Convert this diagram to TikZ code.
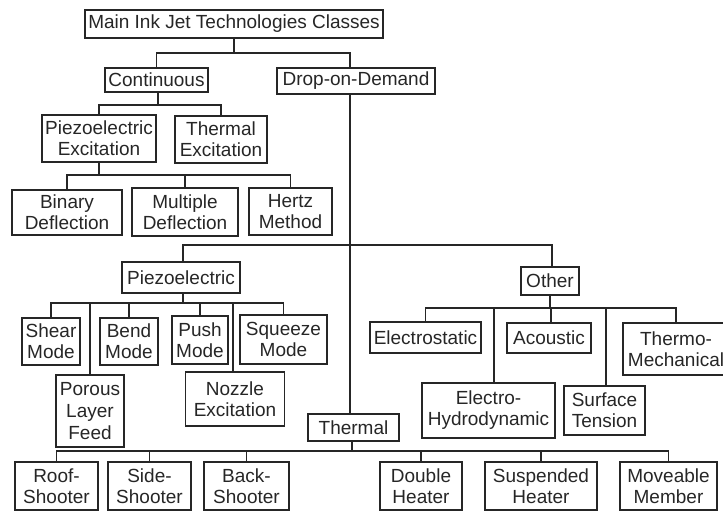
\documentclass[tikz,border=0pt]{standalone}
\usepackage{fontspec}
\setmainfont{Liberation Sans}
\begin{document}
\begin{tikzpicture}[x=1pt,y=-1pt,
  bx/.style={draw=black!85, line width=1.6pt, align=center, inner sep=0pt,
    text=black!85, font=\fontsize{19}{21}\selectfont},
  ln/.style={draw=black!85, line width=1.5pt}]
\useasboundingbox (0,0) rectangle (723,511);
\clip (0,0) rectangle (723,511);
% bus levels
\coordinate (bmain) at (0,53);
\coordinate (bcont) at (0,105);
\coordinate (bpe) at (0,175);
\coordinate (bdod) at (0,245);
\coordinate (bpz) at (0,303);
\coordinate (bot) at (0,308);
\coordinate (bth) at (0,451);
% nodes
\node[bx, minimum width=298pt, minimum height=28pt] (main) at (234,24) {Main Ink Jet Technologies Classes};
\node[bx, minimum width=103pt, minimum height=24pt] (cont) at (156.5,80) {Continuous};
\node[bx, minimum width=158pt, minimum height=26pt] (dod) at (356,81) {Drop-on-Demand};
\node[bx, minimum width=114pt, minimum height=47pt] (pe) at (99,138.5) {Piezoelectric\\Excitation};
\node[bx, minimum width=92pt, minimum height=47pt] (te) at (221,139.5) {Thermal\\Excitation};
\node[bx, minimum width=110pt, minimum height=45pt] (bd) at (67,212.5) {Binary\\Deflection};
\node[bx, minimum width=106pt, minimum height=48pt] (md) at (185,212) {Multiple\\Deflection};
\node[bx, minimum width=83pt, minimum height=47pt] (hm) at (290.5,211.5) {Hertz\\Method};
\node[bx, minimum width=118pt, minimum height=31pt] (piezo) at (181,277.5) {Piezoelectric};
\node[bx, minimum width=58pt, minimum height=47pt] (shear) at (51,341.5) {Shear\\Mode};
\node[bx, minimum width=68pt, minimum height=72pt, font=\fontsize{19}{22}\selectfont] (porous) at (90,411) {Porous\\Layer\\Feed};
\node[bx, minimum width=58pt, minimum height=47pt] (bend) at (129,341.5) {Bend\\Mode};
\node[bx, minimum width=56pt, minimum height=48pt] (push) at (200,340) {Push\\Mode};
\node[bx, minimum width=99pt, minimum height=54pt] (nozzle) at (235,399) {Nozzle\\Excitation};
\node[bx, minimum width=87pt, minimum height=49pt] (squeeze) at (283.5,339.5) {Squeeze\\Mode};
\node[bx, minimum width=58pt, minimum height=28pt] (other) at (550,281) {Other};
\node[bx, minimum width=111pt, minimum height=31pt] (estat) at (425.5,337.5) {Electrostatic};
\node[bx, minimum width=133pt, minimum height=55pt] (ehd) at (488.5,410.5) {Electro-\\Hydrodynamic};
\node[bx, minimum width=84pt, minimum height=30pt] (acou) at (549,338) {Acoustic};
\node[bx, minimum width=81pt, minimum height=49pt] (surf) at (604.5,410.5) {Surface\\Tension};
\node[bx, minimum width=106pt, minimum height=52pt] (tm) at (676,349) {Thermo-\\Mechanical};
\node[bx, minimum width=91pt, minimum height=27pt] (thermal) at (353.5,427.5) {Thermal};
\node[bx, minimum width=83pt, minimum height=48pt] (roof) at (56.5,486) {Roof-\\Shooter};
\node[bx, minimum width=83pt, minimum height=48pt] (side) at (149.5,486) {Side-\\Shooter};
\node[bx, minimum width=85pt, minimum height=48pt] (back) at (246.5,486) {Back-\\Shooter};
\node[bx, minimum width=82pt, minimum height=48pt] (dbl) at (421,486) {Double\\Heater};
\node[bx, minimum width=112pt, minimum height=48pt] (susp) at (541,486) {Suspended\\Heater};
\node[bx, minimum width=97pt, minimum height=48pt] (move) at (668.5,486) {Moveable\\Member};
% connectors
\draw[ln] (main.south) -- (main.south |- bmain);
\draw[ln] (cont.north) |- ([xshift=-6pt]dod.north |- bmain) -- ([xshift=-6pt]dod.north);
\draw[ln] ([xshift=1.5pt]cont.south) -- ([xshift=1.5pt]cont.south |- bcont);
\draw[ln] (pe.north) |- (te.north |- bcont) -- (te.north);
\draw[ln] (pe.south) -- (pe.south |- bpe);
\draw[ln] (bd.north) |- (hm.north |- bpe) -- (hm.north);
\draw[ln] (md.north) -- (md.north |- bpe);
\draw[ln] ([xshift=-6pt]dod.south) -- ([xshift=-6pt]dod.south |- thermal.north);
\draw[ln] ([xshift=2pt]piezo.north) |- ([xshift=2pt]other.north |- bdod) -- ([xshift=2pt]other.north);
\draw[ln] ([xshift=2pt]piezo.south) -- ([xshift=2pt]piezo.south |- bpz);
\draw[ln] (shear.north) |- (squeeze.north |- bpz) -- (squeeze.north);
\draw[ln] (porous.north) -- (porous.north |- bpz);
\draw[ln] (bend.north) -- (bend.north |- bpz);
\draw[ln] (push.north) -- (push.north |- bpz);
\draw[ln] ([xshift=-2pt]nozzle.north) -- ([xshift=-2pt]nozzle.north |- bpz);
\draw[ln] (other.south) -- (other.south |- bot);
\draw[ln] (estat.north) |- (tm.north |- bot) -- (tm.north);
\draw[ln] ([xshift=5.5pt]ehd.north) -- ([xshift=5.5pt]ehd.north |- bot);
\draw[ln] ([xshift=2pt]acou.north) -- ([xshift=2pt]acou.north |- bot);
\draw[ln] ([xshift=1.5pt]surf.north) -- ([xshift=1.5pt]surf.north |- bot);
\draw[ln] ([xshift=-1.5pt]thermal.south) -- ([xshift=-1.5pt]thermal.south |- bth);
\draw[ln] (roof.north) |- (move.north |- bth) -- (move.north);
\draw[ln] (side.north) -- (side.north |- bth);
\draw[ln] (back.north) -- (back.north |- bth);
\draw[ln] (dbl.north) -- (dbl.north |- bth);
\draw[ln] (susp.north) -- (susp.north |- bth);
\end{tikzpicture}
\end{document}
